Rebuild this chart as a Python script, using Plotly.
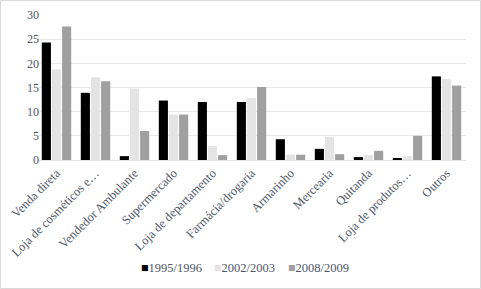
import plotly.graph_objects as go

categories = ["Venda direta", "Loja de cosméticos e…", "Vendedor Ambulante", "Supermercado",
              "Loja de departamento", "Farmácia/drogaria", "Armarinho", "Mercearia",
              "Quitanda", "Loja de produtos…", "Outros"]
s1995 = [24.3, 13.9, 0.8, 12.3, 12.0, 12.0, 4.3, 2.3, 0.6, 0.3, 17.3]
s2002 = [18.7, 17.1, 14.8, 9.4, 2.9, 12.8, 1.1, 4.8, 1.0, 0.8, 16.8]
s2008 = [27.6, 16.3, 6.0, 9.4, 1.0, 15.1, 1.1, 1.2, 1.9, 5.0, 15.4]
series_names = ["1995/1996", "2002/2003", "2008/2009"]
colors = ["#000000", "#e4e4e4", "#a0a0a0"]

font = "Liberation Serif, Times New Roman, serif"
txt = "#4e5665"
W, H = 481, 289
L, R, T, B = 37, 15, 15, 129
pw, ph = W - L - R, H - T - B

fig = go.Figure()
for name, vals, col in zip(series_names, [s1995, s2002, s2008], colors):
    fig.add_trace(go.Bar(x=categories, y=vals, name=name, showlegend=False,
                         marker=dict(color=col, line=dict(width=0))))

fig.update_layout(
    width=W, height=H,
    margin=dict(l=L, r=R, t=T, b=B, autoexpand=False),
    paper_bgcolor="white", plot_bgcolor="white",
    barmode="group", bargap=0.22, bargroupgap=0.1,
    font=dict(family=font, size=12, color=txt),
    xaxis=dict(tickangle=-45, showgrid=False, showline=True, linecolor="#e0e0e0", linewidth=1,
               tickfont=dict(family=font, size=12.5, color=txt), ticks="", automargin=False),
    yaxis=dict(range=[0, 30], dtick=5, showgrid=True, gridcolor="#e8e8e8", gridwidth=1,
               zeroline=False, showline=False, ticks="", ticklen=0, automargin=False,
               ticklabelstandoff=-3,
               tickfont=dict(family=font, size=12, color=txt)),
)

# legend drawn as text entries (square glyph + label)
legend_x = [139, 212, 286]
for name, col, lx in zip(series_names, colors, legend_x):
    fig.add_annotation(xref="paper", yref="paper", x=(lx - L) / pw, y=(T + ph - 268) / ph,
                       xanchor="left", yanchor="middle", showarrow=False,
                       text=f"<span style='color:{col}'>■</span>{name}",
                       font=dict(family=font, size=12.5, color=txt))

fig.add_shape(type="rect", xref="paper", yref="paper",
              x0=(0.5 - L) / pw, x1=(W - 0.5 - L) / pw,
              y0=-(H - 0.5 - T - ph) / ph, y1=1 + (T - 0.5) / ph,
              line=dict(color="#d9d9d9", width=1), fillcolor="rgba(0,0,0,0)", layer="above")
fig.write_html("out.html", config={"displayModeBar": False},
               post_script="document.body.style.margin='0';document.body.style.overflow='hidden';")
